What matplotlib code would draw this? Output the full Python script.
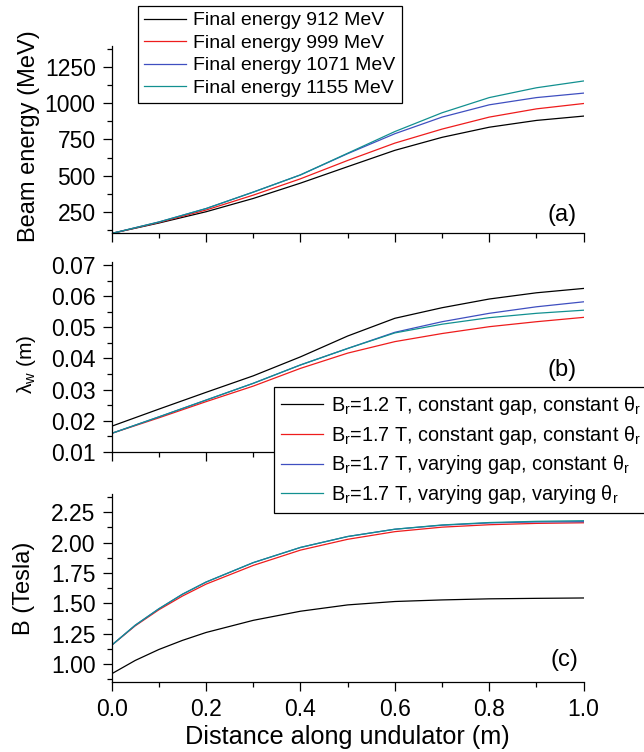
import matplotlib
matplotlib.use("Agg")
import matplotlib.pyplot as plt
from matplotlib.ticker import MultipleLocator, FormatStrFormatter

plt.rcParams['font.family'] = ['Liberation Sans', 'DejaVu Sans']
plt.rcParams['mathtext.fontset'] = 'custom'
plt.rcParams['mathtext.rm'] = 'Liberation Sans'
plt.rcParams['mathtext.it'] = 'Liberation Sans:italic'

# distance along the undulator (m)
dist = [0.0, 0.1, 0.2, 0.3, 0.4, 0.5, 0.6, 0.7, 0.8, 0.9, 1.0]
dist_b = [0.0, 0.05, 0.1, 0.15, 0.2, 0.3, 0.4, 0.5, 0.6, 0.7, 0.8, 0.9, 1.0]

# (a) beam energy (MeV)
energy_912 = [100, 172, 250, 342, 448, 562, 675, 765, 835, 882, 912]
energy_999 = [100, 176, 262, 365, 478, 605, 725, 822, 905, 962, 999]
energy_1071 = [100, 179, 272, 386, 505, 652, 790, 905, 990, 1040, 1071]
energy_1155 = [100, 179, 272, 386, 505, 655, 805, 935, 1040, 1108, 1155]
energy_labels = ['Final energy 912 MeV', 'Final energy 999 MeV',
                 'Final energy 1071 MeV', 'Final energy 1155 MeV']

# (b) undulator period (m)
lam_12_const = [0.0182, 0.0237, 0.0291, 0.0344, 0.0405, 0.0472, 0.0529, 0.0563, 0.0591, 0.0611, 0.0625]
lam_17_const = [0.0159, 0.0209, 0.0261, 0.0311, 0.0368, 0.0417, 0.0454, 0.0480, 0.0502, 0.0518, 0.0532]
lam_17_gap = [0.0159, 0.0212, 0.0266, 0.0320, 0.0379, 0.0432, 0.0484, 0.0518, 0.0545, 0.0566, 0.0582]
lam_17_gap_theta = [0.0159, 0.0212, 0.0266, 0.0320, 0.0379, 0.0432, 0.0482, 0.0510, 0.0531, 0.0545, 0.0555]

# (c) peak field (Tesla)
b_12_const = [0.92, 1.03, 1.12, 1.195, 1.26, 1.36, 1.435, 1.487, 1.515, 1.528, 1.537, 1.541, 1.544]
b_17_const = [1.155, 1.315, 1.447, 1.56, 1.658, 1.812, 1.938, 2.027, 2.09, 2.127, 2.147, 2.158, 2.163]
b_17_gap = [1.155, 1.32, 1.455, 1.575, 1.675, 1.835, 1.96, 2.05, 2.11, 2.143, 2.162, 2.17, 2.172]
b_17_gap_theta = [1.155, 1.32, 1.455, 1.575, 1.675, 1.835, 1.96, 2.05, 2.11, 2.145, 2.165, 2.175, 2.18]

case_labels = [r'B$_\mathregular{r}$=1.2 T, constant gap, constant $\mathregular{\theta_r}$',
               r'B$_\mathregular{r}$=1.7 T, constant gap, constant $\mathregular{\theta_r}$',
               r'B$_\mathregular{r}$=1.7 T, varying gap, constant $\mathregular{\theta_r}$',
               r'B$_\mathregular{r}$=1.7 T, varying gap, varying $\mathregular{\theta_r}$']

colors = ['black', '#ee1c1c', '#3f4fc0', '#129090']
lw = 0.9


def style_axis(ax, show_xlabels):
    # only left and bottom axes, outward ticks with minor ticks
    ax.spines['top'].set_visible(False)
    ax.spines['right'].set_visible(False)
    for s in ['left', 'bottom']:
        ax.spines[s].set_linewidth(0.9)
    ax.set_xlim(0, 1.0)
    ax.xaxis.set_major_locator(MultipleLocator(0.2))
    ax.xaxis.set_minor_locator(MultipleLocator(0.1))
    ax.xaxis.set_major_formatter(FormatStrFormatter('%.1f'))
    ax.tick_params(which='major', direction='out', length=6.5, width=0.9, labelsize=16.5, pad=5)
    ax.tick_params(which='minor', direction='out', length=3.6, width=0.9)
    if not show_xlabels:
        ax.tick_params(axis='x', labelbottom=False)


fig = plt.figure(figsize=(6.44, 7.52), dpi=100)
left = 0.1734
width = 0.7329
axw = 472.0

# panel (a)
ax1 = fig.add_axes([left, 0.6896, width, 0.2498])
for y, c, lab in zip([energy_912, energy_999, energy_1071, energy_1155], colors, energy_labels):
    ax1.plot(dist, y, color=c, lw=lw, label=lab)
ax1.set_ylim(100, 1400)
ax1.yaxis.set_major_locator(MultipleLocator(250))
ax1.yaxis.set_minor_locator(MultipleLocator(125))
ax1.yaxis.set_major_formatter(FormatStrFormatter('%d'))
style_axis(ax1, False)
ax1.set_ylabel('Beam energy (MeV)', fontsize=17)
ax1.yaxis.set_label_coords((40 - 111.7) / axw, 0.52)
ax1.text(0.955, 0.10, '(a)', transform=ax1.transAxes, fontsize=17, ha='center', va='center')

# panel (b)
ax2 = fig.add_axes([left, 0.3993, width, 0.2523])
for y, c, lab in zip([lam_12_const, lam_17_const, lam_17_gap, lam_17_gap_theta], colors, case_labels):
    ax2.plot(dist, y, color=c, lw=lw, label=lab)
ax2.set_ylim(0.01, 0.071)
ax2.yaxis.set_major_locator(MultipleLocator(0.01))
ax2.yaxis.set_minor_locator(MultipleLocator(0.005))
ax2.yaxis.set_major_formatter(FormatStrFormatter('%.2f'))
style_axis(ax2, False)
ax2.set_ylabel(r'$\mathregular{\lambda_w}$ (m)', fontsize=15)
ax2.yaxis.set_label_coords((38 - 111.7) / axw, 0.46)
ax2.text(0.955, 0.43, '(b)', transform=ax2.transAxes, fontsize=17, ha='center', va='center')

# panel (c)
ax3 = fig.add_axes([left, 0.0927, width, 0.2504])
for y, c in zip([b_12_const, b_17_const, b_17_gap, b_17_gap_theta], colors):
    ax3.plot(dist_b, y, color=c, lw=lw)
ax3.set_ylim(0.85, 2.40)
ax3.yaxis.set_major_locator(MultipleLocator(0.25))
ax3.yaxis.set_minor_locator(MultipleLocator(0.125))
ax3.yaxis.set_major_formatter(FormatStrFormatter('%.2f'))
style_axis(ax3, True)
ax3.set_ylabel('B (Tesla)', fontsize=17)
ax3.yaxis.set_label_coords((35 - 111.7) / axw, 0.5)
ax3.set_xlabel('Distance along undulator (m)', fontsize=18.2, labelpad=3)
ax3.text(0.96, 0.12, '(c)', transform=ax3.transAxes, fontsize=17, ha='center', va='center')

# legends sit on top of everything
h1, l1 = ax1.get_legend_handles_labels()
leg1 = fig.legend(h1, l1, loc='upper left', bbox_to_anchor=(138 / 644, 1 - 6 / 752),
                  fontsize=14, frameon=True, fancybox=False, framealpha=1,
                  edgecolor='black', borderpad=0.3, labelspacing=0.25,
                  handlelength=2.15, handletextpad=0.4, borderaxespad=0)
leg1.get_frame().set_linewidth(0.9)

h2, l2 = ax2.get_legend_handles_labels()
leg2 = fig.legend(h2, l2, loc='upper left', bbox_to_anchor=(274 / 644, 1 - 387 / 752),
                  fontsize=14.3, frameon=True, fancybox=False, framealpha=1,
                  edgecolor='black', borderpad=0.35, labelspacing=0.34,
                  handlelength=2.1, handletextpad=0.4, borderaxespad=0)
leg2.get_frame().set_linewidth(0.9)

plt.savefig('out.png', dpi=100)
